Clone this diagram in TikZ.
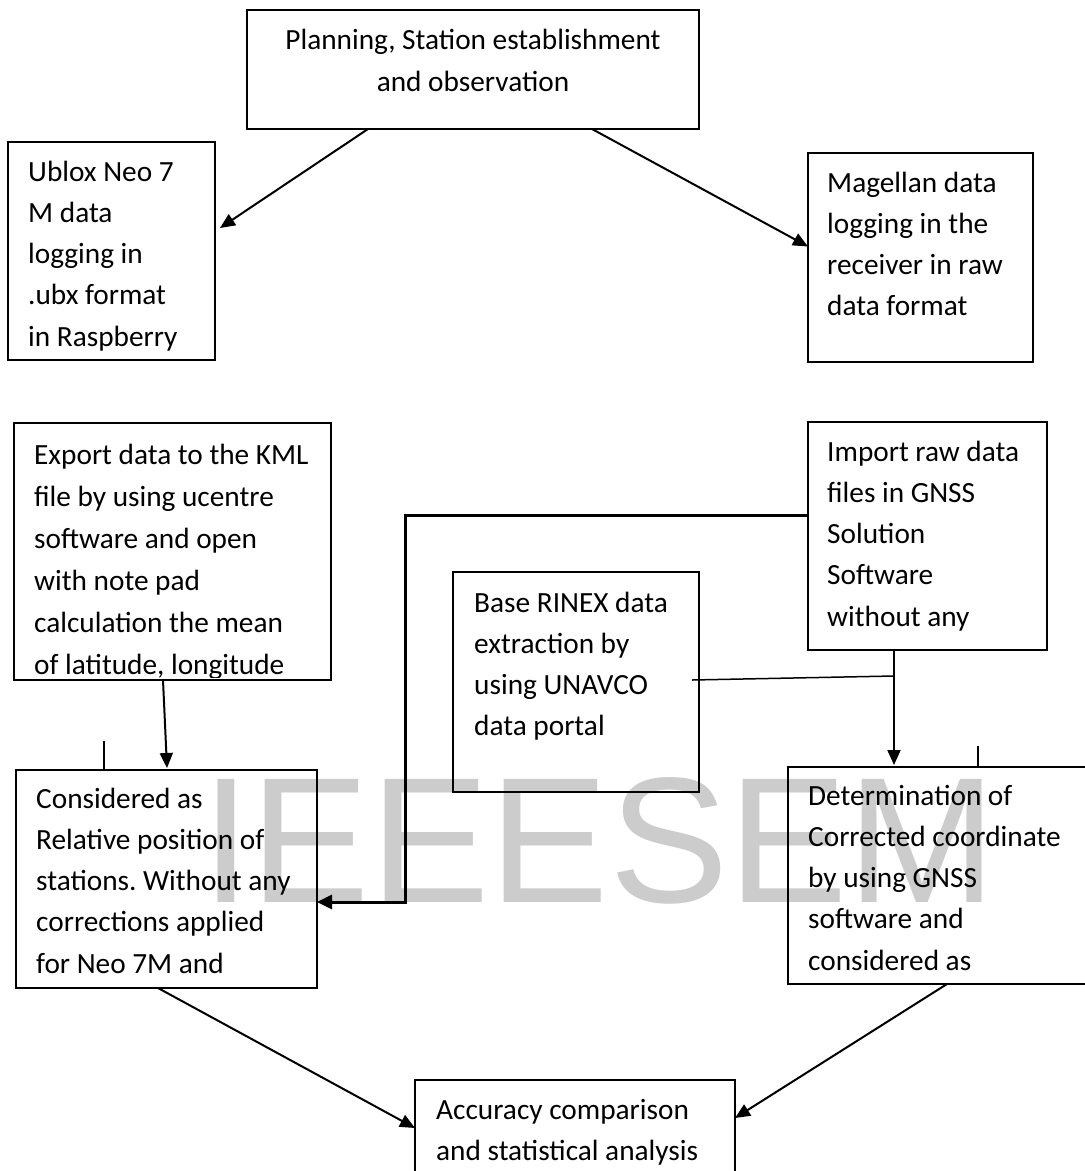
\documentclass[tikz,border=0pt]{standalone}
\usepackage{fontspec}
\setmainfont{Carlito}
\newfontfamily\wmfont{Liberation Sans}
\usetikzlibrary{arrows.meta,calc}
\definecolor{wmgray}{RGB}{204,204,204}
\frenchspacing
\newcommand{\mllines}[2][41.3pt]{\vtop{\baselineskip=#1\lineskiplimit=-100pt\halign{##\hfil\cr#2\crcr}}}
\newcommand{\mlcenter}[1]{\vtop{\baselineskip=42pt\lineskiplimit=-100pt\halign{\hfil##\hfil\cr#1\crcr}}}
\begin{document}
\begin{tikzpicture}[x=1pt,y=-1pt,
  box/.style={draw, line width=2pt, inner sep=0pt, outer sep=0pt, anchor=north west},
  txt/.style={inner sep=0pt, anchor=base west, font=\fontsize{29.3}{41}\selectfont},
  arr/.style={line width=2pt, -{Triangle[length=15pt,width=13pt]}},
  conn/.style={line width=2pt}]
\useasboundingbox (0,0) rectangle (1085,1171);
\fill[white] (0,0) rectangle (1085,1171);
% watermark
\node[anchor=base west, inner sep=0pt, text=wmgray, font=\wmfont\fontsize{179}{179}\selectfont] (wm) at (201,902) {IEEESEM};
% boxes
\node[box, minimum width=452pt, minimum height=119pt] (top) at (247,10) {};
\node[box, minimum width=207pt, minimum height=218pt] (ublox) at (8,142) {};
\node[box, minimum width=225pt, minimum height=209pt] (mag) at (808,153) {};
\node[box, minimum width=317pt, minimum height=257pt] (export) at (14,423) {};
\node[box, minimum width=239pt, minimum height=228pt] (import) at (808,422) {};
\node[box, minimum width=246pt, minimum height=220pt] (rinex) at (453,572) {};
\node[box, minimum width=301pt, minimum height=218pt] (consid) at (16,770) {};
\node[box, minimum width=310pt, minimum height=217pt] (determ) at (788,767) {};
\node[box, minimum width=320pt, minimum height=130pt] (acc) at (415,1080) {};
% texts
\node[txt, anchor=base] (ttop) at (473,49) {\mlcenter{Planning, Station establishment\cr and observation}};
\node[txt] (tublox) at (28,181) {\mllines{Ublox Neo 7\cr M data\cr logging in\cr .ubx format\cr in Raspberry}};
\node[txt] (tmag) at (827,192) {\mllines{Magellan data\cr logging in the\cr receiver in raw\cr data format}};
\begin{scope}
\clip ([yshift=3pt]export.south west) rectangle (export.north east);
\node[txt] (texport) at (34,464) {\mllines[42pt]{Export data to the KML\cr file by using ucentre\cr software and open\cr with note pad\cr calculation the mean\cr of latitude, longitude}};
\end{scope}
\node[txt] (timport) at (827,461) {\mllines{Import raw data\cr files in GNSS\cr Solution\cr Software\cr without any}};
\node[txt] (trinex) at (474,612) {\mllines{Base RINEX data\cr extraction by\cr using UNAVCO\cr data portal}};
\node[txt] (tconsid) at (36,808) {\mllines{Considered as\cr Relative position of\cr stations. Without any\cr corrections applied\cr for Neo 7M and}};
\node[txt] (tdeterm) at (808,805) {\mllines{Determination of\cr Corrected coordinate\cr by using GNSS\cr software and\cr considered as}};
\node[txt] (tacc) at (436,1119) {\mllines{Accuracy comparison\cr and statistical analysis}};
% connectors
\draw[arr] ([xshift=121pt]top.south west) -- ([xshift=5pt,yshift=23pt]ublox.east);
\draw[arr] ([xshift=345pt]top.south west) -- ([yshift=11pt]mag.west);
\draw[arr] ([xshift=149pt]export.south west) -- ([xshift=151pt,yshift=2pt]consid.north west);
\draw[conn] ([xshift=88pt]consid.north west) -- ++(0,-29);
\draw[conn] ([xshift=190pt]determ.north west) -- ++(0,-21);
\coordinate (junc) at ($(import.south west)+(86,26)$);
\draw[arr] ([xshift=86pt]import.south west) -- ([xshift=106pt,yshift=2pt]determ.north west);
\draw[line width=1.5pt] ([xshift=-7pt,yshift=2pt]rinex.east) -- (junc);
\draw[line width=3pt, -{Triangle[length=15pt,width=14pt]}] ([yshift=21pt]import.west) -| ([xshift=88pt,yshift=-23pt]consid.east) -- ([yshift=-23pt]consid.east);
\draw[arr] ([xshift=142pt]consid.south west) -- ([yshift=-48pt]acc.north west);
\draw[arr] ([xshift=159pt]determ.south west) -- ([yshift=-38pt]acc.north east);
\end{tikzpicture}
\end{document}
